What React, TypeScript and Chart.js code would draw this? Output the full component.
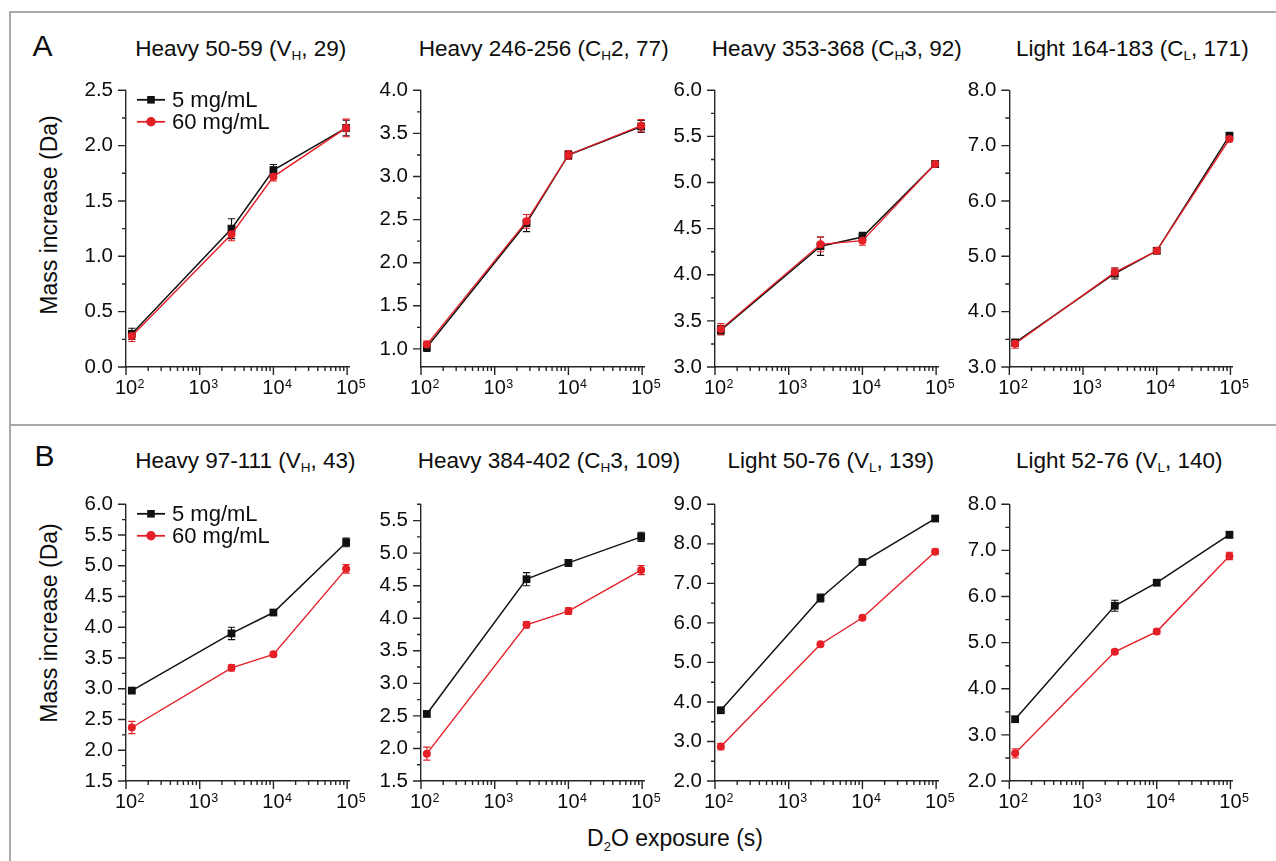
import React, { useEffect, useRef } from "react";
import { Chart, registerables } from "chart.js";

Chart.register(...registerables);

// ---------------- data ----------------
const exposureTimes = [120, 2700, 10000, 97000];
const seriesNames = ["5 mg/mL", "60 mg/mL"];

const titlesA = [
  ["Heavy 50-59 (V", "H", ", 29)"],
  ["Heavy 246-256 (C", "H", "2, 77)"],
  ["Heavy 353-368 (C", "H", "3, 92)"],
  ["Light 164-183 (C", "L", ", 171)"],
];
const titlesB = [
  ["Heavy 97-111 (V", "H", ", 43)"],
  ["Heavy 384-402 (C", "H", "3, 109)"],
  ["Light 50-76 (V", "L", ", 139)"],
  ["Light 52-76 (V", "L", ", 140)"],
];

const a1Low = [0.3, 1.25, 1.78, 2.16];
const a1LowErr = [0.05, 0.09, 0.05, 0.07];
const a1High = [0.28, 1.2, 1.72, 2.16];
const a1HighErr = [0.05, 0.06, 0.04, 0.08];

const a2Low = [1.02, 2.46, 3.25, 3.58];
const a2LowErr = [0.05, 0.1, 0.05, 0.07];
const a2High = [1.05, 2.48, 3.25, 3.59];
const a2HighErr = [0.04, 0.08, 0.05, 0.07];

const a3Low = [3.4, 4.31, 4.41, 5.2];
const a3LowErr = [0.05, 0.1, 0.05, 0.03];
const a3High = [3.41, 4.33, 4.37, 5.2];
const a3HighErr = [0.06, 0.08, 0.05, 0.03];

const a4Low = [3.44, 4.69, 5.1, 7.18];
const a4LowErr = [0.06, 0.1, 0.05, 0.05];
const a4High = [3.42, 4.71, 5.1, 7.12];
const a4HighErr = [0.08, 0.08, 0.05, 0.05];

const b1Low = [2.97, 3.9, 4.24, 5.38];
const b1LowErr = [0.03, 0.1, 0.04, 0.07];
const b1High = [2.37, 3.34, 3.56, 4.95];
const b1HighErr = [0.1, 0.05, 0.04, 0.07];

const b2Low = [2.53, 4.6, 4.85, 5.25];
const b2LowErr = [0.04, 0.1, 0.05, 0.07];
const b2High = [1.92, 3.9, 4.11, 4.74];
const b2HighErr = [0.1, 0.05, 0.05, 0.07];

const b3Low = [3.79, 6.63, 7.54, 8.64];
const b3LowErr = [0.05, 0.1, 0.05, 0.05];
const b3High = [2.87, 5.46, 6.13, 7.8];
const b3HighErr = [0.08, 0.05, 0.05, 0.07];

const b4Low = [3.34, 5.8, 6.3, 7.34];
const b4LowErr = [0.05, 0.12, 0.05, 0.07];
const b4High = [2.6, 4.8, 5.24, 6.88];
const b4HighErr = [0.1, 0.05, 0.05, 0.08];

// y tick labels (major) and minor tick positions
const a1Major = [0, 0.5, 1, 1.5, 2, 2.5];
const a1Minor = [0.25, 0.75, 1.25, 1.75, 2.25];
const a2Major = [1, 1.5, 2, 2.5, 3, 3.5, 4];
const a2Minor = [1.25, 1.75, 2.25, 2.75, 3.25, 3.75];
const a3Major = [3, 3.5, 4, 4.5, 5, 5.5, 6];
const a3Minor = [3.25, 3.75, 4.25, 4.75, 5.25, 5.75];
const a4Major = [3, 4, 5, 6, 7, 8];
const a4Minor = [3.5, 4.5, 5.5, 6.5, 7.5];
const b1Major = [1.5, 2, 2.5, 3, 3.5, 4, 4.5, 5, 5.5, 6];
const b1Minor = [1.75, 2.25, 2.75, 3.25, 3.75, 4.25, 4.75, 5.25, 5.75];
const b2Major = [1.5, 2, 2.5, 3, 3.5, 4, 4.5, 5, 5.5];
const b2Minor = [1.75, 2.25, 2.75, 3.25, 3.75, 4.25, 4.75, 5.25, 5.75];
const b3Major = [2, 3, 4, 5, 6, 7, 8, 9];
const b3Minor = [2.5, 3.5, 4.5, 5.5, 6.5, 7.5, 8.5];
const b4Major = [2, 3, 4, 5, 6, 7, 8];
const b4Minor = [2.5, 3.5, 4.5, 5.5, 6.5, 7.5];

const yRanges = [
  [0, 2.5], [0.79, 4.0], [3, 6], [3, 8],
  [1.5, 6], [1.5, 5.75], [2, 9], [2, 8],
];
const xDecades = [100, 1000, 10000, 100000];
const xMinorMult = [2, 3, 4, 5, 6, 7, 8, 9];
const X_MIN = 100;
const X_MAX = 107000;

// ---------------- styles / layout ----------------
const FONT = "'Liberation Sans', Arial, Helvetica, sans-serif";
const BLACK = "#111111";
const RED = "#e41f26";
const AXIS = "#262626";
const TEXT = "#0d0d0d";

const colLeft = [126, 421, 715, 1009.3];
const rowTop = [79, 493];
const rowBottom = [367, 781];
const plotWidth = 223.3;
const titleCentersA = [240.8, 543.7, 836.8, 1132.3];
const titleCentersB = [245.3, 549, 830.8, 1119.3];

// ---------------- plugins ----------------
const errorBarPlugin = {
  id: "errorBars",
  beforeDatasetsDraw(chart: any) {
    const ctx = chart.ctx;
    const xs = chart.scales.x;
    const ys = chart.scales.y;
    chart.data.datasets.forEach((ds: any) => {
      const errs = ds.errors || [];
      ctx.save();
      ctx.strokeStyle = ds.borderColor;
      ctx.lineWidth = 1.1;
      ds.data.forEach((pt: any, i: number) => {
        const e = errs[i] || 0;
        const px = xs.getPixelForValue(pt.x);
        const y1 = ys.getPixelForValue(pt.y - e);
        const y2 = ys.getPixelForValue(pt.y + e);
        ctx.beginPath();
        ctx.moveTo(px, y1);
        ctx.lineTo(px, y2);
        ctx.moveTo(px - 3.6, y1);
        ctx.lineTo(px + 3.6, y1);
        ctx.moveTo(px - 3.6, y2);
        ctx.lineTo(px + 3.6, y2);
        ctx.stroke();
      });
      ctx.restore();
    });
  },
};

function sup(n: number) {
  return String(Math.round(Math.log10(n)));
}

const axisDecorPlugin = {
  id: "axisDecor",
  afterDraw(chart: any, _args: any, opts: any) {
    const ctx = chart.ctx;
    const xs = chart.scales.x;
    const ys = chart.scales.y;
    const { left, bottom } = chart.chartArea;
    ctx.save();
    ctx.strokeStyle = AXIS;
    ctx.lineWidth = 1.4;
    ctx.beginPath();
    (opts.major || []).forEach((v: number) => {
      const y = ys.getPixelForValue(v);
      ctx.moveTo(left - 8, y);
      ctx.lineTo(left, y);
    });
    (opts.minor || []).forEach((v: number) => {
      const y = ys.getPixelForValue(v);
      ctx.moveTo(left - 4, y);
      ctx.lineTo(left, y);
    });
    xDecades.forEach((d) => {
      const x = xs.getPixelForValue(d);
      ctx.moveTo(x, bottom);
      ctx.lineTo(x, bottom + 8);
      if (d < 100000) {
        xMinorMult.forEach((m) => {
          const xm = xs.getPixelForValue(d * m);
          ctx.moveTo(xm, bottom);
          ctx.lineTo(xm, bottom + 4);
        });
      }
    });
    ctx.stroke();

    // x tick labels 10^n
    ctx.fillStyle = TEXT;
    xDecades.forEach((d) => {
      const x = xs.getPixelForValue(d);
      ctx.font = `20px ${FONT}`;
      ctx.textAlign = "center";
      ctx.textBaseline = "alphabetic";
      const w = ctx.measureText("10").width;
      ctx.fillText("10", x, bottom + 27);
      ctx.font = `12.5px ${FONT}`;
      ctx.textAlign = "left";
      ctx.fillText(sup(d), x + w / 2 + 0.5, bottom + 21);
    });

    // legend inside plot
    if (opts.legend) {
      const top = chart.chartArea.top;
      const rows = [top + 9.5, top + 31.5];
      chart.data.datasets.forEach((ds: any, i: number) => {
        const y = rows[i];
        ctx.strokeStyle = ds.borderColor;
        ctx.lineWidth = 1.8;
        ctx.beginPath();
        ctx.moveTo(left + 11, y);
        ctx.lineTo(left + 39, y);
        ctx.stroke();
        ctx.fillStyle = ds.backgroundColor;
        if (ds.pointStyle === "rect") {
          ctx.fillRect(left + 25 - 3.8, y - 3.8, 7.6, 7.6);
        } else {
          ctx.beginPath();
          ctx.arc(left + 25, y, 4.7, 0, Math.PI * 2);
          ctx.fill();
        }
        ctx.fillStyle = TEXT;
        ctx.font = `22px ${FONT}`;
        ctx.textAlign = "left";
        ctx.textBaseline = "alphabetic";
        ctx.fillText(ds.label, left + 46, y + 7.5);
      });
    }
    ctx.restore();
  },
};

// ---------------- panel ----------------
type PanelSpec = {
  L: number;
  T: number;
  B: number;
  ymin: number;
  ymax: number;
  major: number[];
  minor: number[];
  low: number[];
  lowErr: number[];
  high: number[];
  highErr: number[];
  legend: boolean;
};

function Panel({ p }: { p: PanelSpec }) {
  const ref = useRef<HTMLCanvasElement>(null);
  const R = p.L + plotWidth;
  const cLeft = Math.floor(p.L - 75);
  const cTop = Math.floor(p.T - 14);
  const wy = p.L - cLeft;
  const padTop = p.T - cTop;
  const width = Math.ceil(R - cLeft + 26);
  const height = Math.ceil(p.B - cTop + 42);
  const padRight = width - (R - cLeft);
  const hx = height - (p.B - cTop);

  useEffect(() => {
    const cvs = ref.current;
    if (!cvs) return;
    const allTicks = [...p.major, ...p.minor].sort((a, b) => a - b);
    const isMajor = (v: number) => p.major.some((m) => Math.abs(m - v) < 1e-6);
    const chart = new Chart(cvs, {
      type: "line",
      data: {
        datasets: [
          {
            label: seriesNames[0],
            data: p.low.map((v, i) => ({ x: exposureTimes[i], y: v })),
            borderColor: BLACK,
            backgroundColor: BLACK,
            borderWidth: 1.5,
            pointStyle: "rect",
            pointRadius: 5.5,
            pointBorderWidth: 0,
            pointBackgroundColor: BLACK,
            order: 2,
            clip: false,
            errors: p.lowErr,
          } as any,
          {
            label: seriesNames[1],
            data: p.high.map((v, i) => ({ x: exposureTimes[i], y: v })),
            borderColor: RED,
            backgroundColor: RED,
            borderWidth: 1.4,
            pointStyle: "circle",
            pointRadius: 4,
            pointBorderWidth: 0,
            pointBackgroundColor: RED,
            order: 1,
            clip: false,
            errors: p.highErr,
          } as any,
        ],
      },
      options: {
        responsive: false,
        animation: false,
        events: [],
        layout: { padding: { top: padTop, right: padRight, left: 0, bottom: 0 } },
        plugins: {
          legend: { display: false },
          tooltip: { enabled: false },
          title: { display: false },
          axisDecor: { major: p.major, minor: p.minor, legend: p.legend },
        } as any,
        scales: {
          x: {
            type: "logarithmic",
            min: X_MIN,
            max: X_MAX,
            ticks: { display: false },
            grid: { display: false, drawTicks: false },
            border: { display: true, color: AXIS, width: 1.4 },
            afterFit: (s: any) => {
              s.height = hx;
            },
          },
          y: {
            type: "linear",
            min: p.ymin,
            max: p.ymax,
            afterBuildTicks: (s: any) => {
              s.ticks = allTicks.map((v) => ({ value: v }));
            },
            ticks: {
              autoSkip: false,
              padding: 13,
              color: TEXT,
              font: { family: FONT, size: 20.5 },
              callback: (v: any) => (isMajor(Number(v)) ? Number(v).toFixed(1) : ""),
            },
            grid: { display: false, drawTicks: false },
            border: { display: true, color: AXIS, width: 1.4 },
            afterFit: (s: any) => {
              s.width = wy;
            },
          },
        },
      } as any,
      plugins: [errorBarPlugin, axisDecorPlugin],
    });
    return () => chart.destroy();
  }, []);

  return (
    <canvas
      ref={ref}
      width={width}
      height={height}
      style={{ position: "absolute", left: cLeft, top: cTop, width, height }}
    />
  );
}

function Title({ parts, cx, baseline }: { parts: string[]; cx: number; baseline: number }) {
  const size = 22.5;
  return (
    <div
      style={{
        position: "absolute",
        left: cx,
        top: baseline - 0.8465 * size,
        transform: "translateX(-50%)",
        whiteSpace: "nowrap",
        fontSize: size,
        lineHeight: 1,
        color: TEXT,
      }}
    >
      {parts[0]}
      <span style={{ fontSize: 13.5, position: "relative", top: 4 }}>{parts[1]}</span>
      {parts[2]}
    </div>
  );
}

export default function App() {
  const lows = [a1Low, a2Low, a3Low, a4Low, b1Low, b2Low, b3Low, b4Low];
  const lowErrs = [a1LowErr, a2LowErr, a3LowErr, a4LowErr, b1LowErr, b2LowErr, b3LowErr, b4LowErr];
  const highs = [a1High, a2High, a3High, a4High, b1High, b2High, b3High, b4High];
  const highErrs = [a1HighErr, a2HighErr, a3HighErr, a4HighErr, b1HighErr, b2HighErr, b3HighErr, b4HighErr];
  const majors = [a1Major, a2Major, a3Major, a4Major, b1Major, b2Major, b3Major, b4Major];
  const minors = [a1Minor, a2Minor, a3Minor, a4Minor, b1Minor, b2Minor, b3Minor, b4Minor];

  const panels: PanelSpec[] = lows.map((low, i) => {
    const row = i < 4 ? 0 : 1;
    const col = i % 4;
    return {
      L: colLeft[col],
      T: rowTop[row],
      B: rowBottom[row],
      ymin: yRanges[i][0],
      ymax: yRanges[i][1],
      major: majors[i],
      minor: minors[i],
      low,
      lowErr: lowErrs[i],
      high: highs[i],
      highErr: highErrs[i],
      legend: col === 0,
    };
  });

  const yLabelStyle = (cy: number): React.CSSProperties => ({
    position: "absolute",
    left: 49.2,
    top: cy,
    transform: "translate(-50%, -50%) rotate(-90deg)",
    whiteSpace: "nowrap",
    fontSize: 23,
    lineHeight: "23px",
    color: TEXT,
  });

  return (
    <div
      style={{
        position: "absolute",
        left: 0,
        top: 0,
        width: 1276,
        height: 861,
        overflow: "hidden",
        background: "#ffffff",
        fontFamily: FONT,
      }}
    >
      {/* frame lines */}
      <div style={{ position: "absolute", left: 9.25, top: 11.25, width: 1280, height: 1.5, background: "#a9a9a9" }} />
      <div style={{ position: "absolute", left: 9.25, top: 11.25, width: 1.5, height: 860, background: "#a9a9a9" }} />
      <div style={{ position: "absolute", left: 9.25, top: 424.25, width: 1280, height: 1.5, background: "#a9a9a9" }} />

      {/* panel letters */}
      <div style={{ position: "absolute", left: 32.5, top: 56 - 0.8465 * 30, fontSize: 30, lineHeight: 1, color: TEXT }}>A</div>
      <div style={{ position: "absolute", left: 34.5, top: 466.7 - 0.8465 * 30, fontSize: 30, lineHeight: 1, color: TEXT }}>B</div>

      {titlesA.map((t, i) => (
        <Title key={"ta" + i} parts={t} cx={titleCentersA[i]} baseline={57} />
      ))}
      {titlesB.map((t, i) => (
        <Title key={"tb" + i} parts={t} cx={titleCentersB[i]} baseline={469} />
      ))}

      <div style={yLabelStyle(215)}>Mass increase (Da)</div>
      <div style={yLabelStyle(623)}>Mass increase (Da)</div>

      <div
        style={{
          position: "absolute",
          left: 675,
          top: 846.7 - 0.8465 * 23,
          transform: "translateX(-50%)",
          whiteSpace: "nowrap",
          fontSize: 23,
          lineHeight: 1,
          color: TEXT,
        }}
      >
        D<span style={{ fontSize: 13, position: "relative", top: 5 }}>2</span>O exposure (s)
      </div>

      {panels.map((p, i) => (
        <Panel key={i} p={p} />
      ))}
    </div>
  );
}
